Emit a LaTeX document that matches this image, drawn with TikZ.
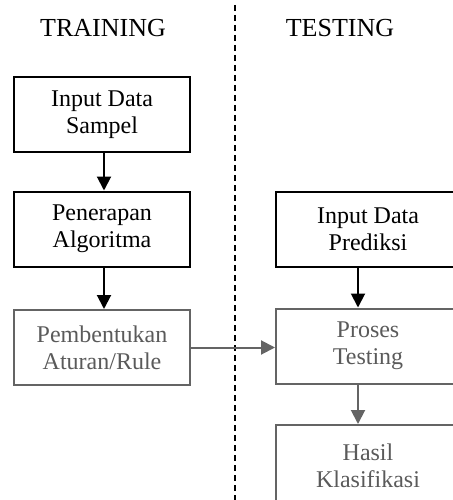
\documentclass[tikz,border=0pt]{standalone}
\usepackage{fontspec}
\setmainfont{Liberation Serif}
\usetikzlibrary{arrows.meta}
\definecolor{fadegray}{RGB}{100,100,100}
\tikzset{
  stepbox/.style={draw, line width=2pt, minimum width=176pt, minimum height=75pt,
    inner sep=0pt, align=center, font=\fontsize{24}{27}\selectfont},
  widebox/.style={stepbox, minimum width=184pt},
  fadebox/.style={widebox, draw=fadegray, text=fadegray!90!black},
  flow/.style={line width=2pt, -{Triangle[length=14pt,width=14pt]}},
  fadeflow/.style={flow, draw=fadegray, fill=fadegray},
  heading/.style={font=\fontsize{26}{30}\selectfont}
}
\begin{document}
\begin{tikzpicture}[x=1pt, y=-1pt]
    % Fix the frame of the picture
    \useasboundingbox (0,0) rectangle (452,500);
    % Headings of both phases
    \node[heading] (train) at (103,28) {TRAINING};
    \node[heading] (test) at (340,28) {TESTING};
    % Dashed line between the phases
    \draw[dashed, line width=1.5pt, dash pattern=on 6pt off 4pt] (235,5) -- (235,500);
    % Training side
    \node[stepbox] (sampel) at (102,114.5) {Input Data\\Sampel};
    \node[stepbox] (algo) at (102,229) {Penerapan\\Algoritma};
    \node[fadebox, minimum width=176pt] (rule) at (102,347.5) {Pembentukan\\Aturan/Rule};
    % Testing side
    \node[widebox] (prediksi) at (368,229) {Input Data\\Prediksi};
    \node[fadebox] (proses) at (368,346) {Proses\\Testing};
    \node[fadebox, minimum height=82pt] (hasil) at (368,466) {Hasil\\Klasifikasi};
    % Arrows of the training side
    \draw[flow] ([xshift=2pt]sampel.south) -- ([xshift=2pt]algo.north);
    \draw[flow] ([xshift=2pt]algo.south) -- ([xshift=2pt]rule.north);
    % Rule goes over to testing
    \draw[fadeflow] (rule.east) -- (rule.east -| proses.west);
    % Arrows of the testing side
    \draw[flow] ([xshift=-10pt]prediksi.south) -- ([xshift=-10pt]proses.north);
    \draw[fadeflow] ([xshift=-10pt]proses.south) -- ([xshift=-10pt]hasil.north);
\end{tikzpicture}
\end{document}
